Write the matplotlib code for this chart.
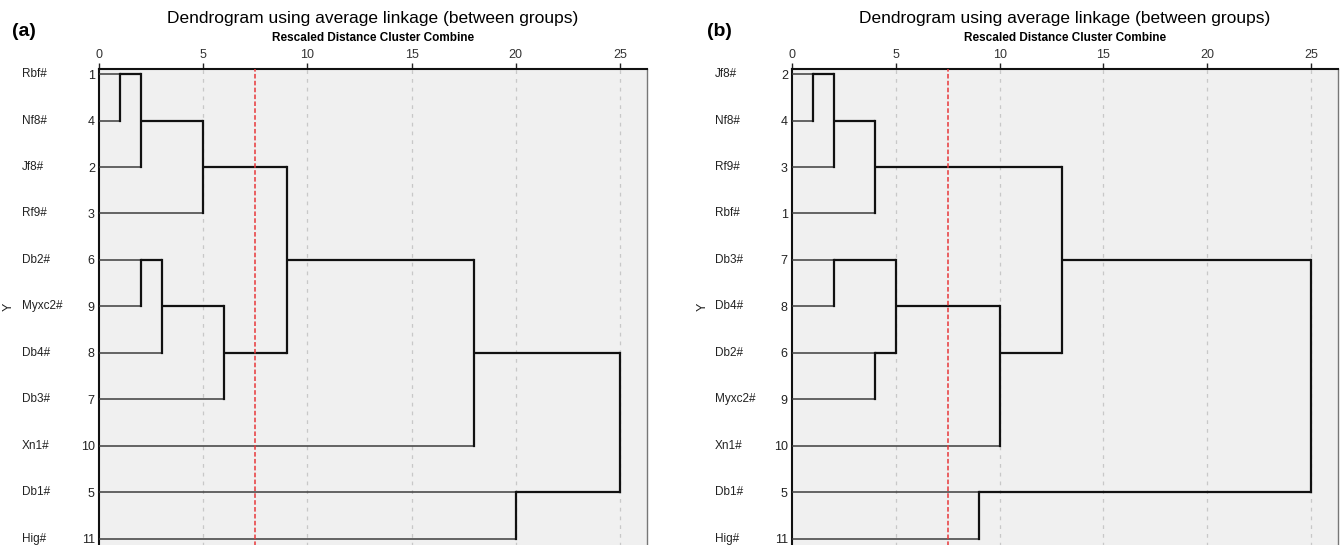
import matplotlib
matplotlib.use("Agg")
from matplotlib import pyplot as plt
from matplotlib.transforms import blended_transform_factory
import numpy as np

plt.rcParams['font.family'] = ['Liberation Sans', 'DejaVu Sans']

# panel (a): leaf order top->bottom, case numbers, SPSS style schedule (keep, absorbed, distance)
names_a = ['Rbf#', 'Nf8#', 'Jf8#', 'Rf9#', 'Db2#', 'Myxc2#', 'Db4#', 'Db3#', 'Xn1#', 'Db1#', 'Hig#']
cases_a = [1, 4, 2, 3, 6, 9, 8, 7, 10, 5, 11]
merges_a = [(1, 4, 1), (1, 2, 2), (1, 3, 5), (6, 9, 2), (6, 8, 3), (6, 7, 6),
            (1, 6, 9), (1, 10, 18), (5, 11, 20), (1, 5, 25)]

# panel (b)
names_b = ['Jf8#', 'Nf8#', 'Rf9#', 'Rbf#', 'Db3#', 'Db4#', 'Db2#', 'Myxc2#', 'Xn1#', 'Db1#', 'Hig#']
cases_b = [2, 4, 3, 1, 7, 8, 6, 9, 10, 5, 11]
merges_b = [(2, 4, 1), (2, 3, 2), (7, 8, 2), (2, 1, 4), (6, 9, 4), (7, 6, 5),
            (5, 11, 9), (7, 10, 10), (2, 7, 13), (2, 5, 25)]

xticks = [0, 5, 10, 15, 20, 25]
cut = 7.5
title = 'Dendrogram using average linkage (between groups)'
subtitle = 'Rescaled Distance Cluster Combine'

fig = plt.figure(figsize=(13.43, 5.45), dpi=100)
W, H = 1343, 545


def panel(left_px, right_px, names, cases, merges, tag, tag_x, name_x, ylab_x):
    ax = fig.add_axes([left_px / W, -0.014, (right_px - left_px) / W, 0.8734 + 0.014])
    ax.set_facecolor('#f0f0f0')
    ax.set_xlim(0, 26.3)
    ax.set_ylim(10.3, -0.11)

    for g in xticks[1:]:
        ax.axvline(g, color='#c8c8c8', lw=0.9, dashes=(3, 4), zorder=1)
    ax.axvline(cut, color='#e8383a', lw=1.1, dashes=(3, 1.5), zorder=4)

    # current (x, row) for each cluster id
    node = {c: (0.0, i) for i, c in enumerate(cases)}
    leaf = set(cases)
    for a, b, d in merges:
        xa, ya = node[a]
        xb, yb = node[b]
        for c, x0, y0 in ((a, xa, ya), (b, xb, yb)):
            if c in leaf:
                ax.plot([x0, d], [y0, y0], color='#3c3c3c', lw=1.1, zorder=3,
                        solid_capstyle='butt')
            else:
                ax.plot([x0, d], [y0, y0], color='#111111', lw=1.6, zorder=3,
                        solid_capstyle='butt')
        ax.plot([d, d], [ya, yb], color='#111111', lw=1.6, zorder=3)
        leaf.discard(a)
        leaf.discard(b)
        node[a] = (d, (ya + yb) // 2)

    ax.xaxis.tick_top()
    ax.set_xticks(xticks)
    ax.tick_params(axis='x', length=4, width=1, color='#222222', pad=2,
                   labelsize=9, labelcolor='#333333')
    ax.set_yticks(range(len(cases)))
    ax.set_yticklabels([str(c) for c in cases])
    ax.tick_params(axis='y', length=0, pad=3, labelsize=9, labelcolor='#222222')

    for s in ['top', 'left']:
        ax.spines[s].set_linewidth(1.5)
        ax.spines[s].set_color('#111111')
    ax.spines['right'].set_color('#777777')
    ax.spines['right'].set_linewidth(1)
    ax.spines['bottom'].set_visible(False)

    tr = blended_transform_factory(fig.transFigure, ax.transData)
    for i, n in enumerate(names):
        ax.text(name_x / W, i, n, transform=tr, ha='left', va='center',
                fontsize=8.5, color='#222222')
    ax.text(ylab_x / W, 5, 'Y', transform=tr, rotation=90, ha='center',
            va='center', fontsize=9, color='#222222')

    cx = (left_px + right_px) / 2 / W
    fig.text(cx, 1 - 19 / H, title, ha='center', va='center', fontsize=12.5)
    fig.text(cx, 1 - 38 / H, subtitle, ha='center', va='center', fontsize=8.5,
             fontweight='bold')
    fig.text(tag_x / W, 1 - 32 / H, tag, ha='left', va='center', fontsize=14,
             fontweight='bold')
    return ax


panel(99, 647, names_a, cases_a, merges_a, '(a)', 12, 22, 9)
panel(792, 1338, names_b, cases_b, merges_b, '(b)', 707, 715, 703)

fig.savefig('out.png', dpi=100)
